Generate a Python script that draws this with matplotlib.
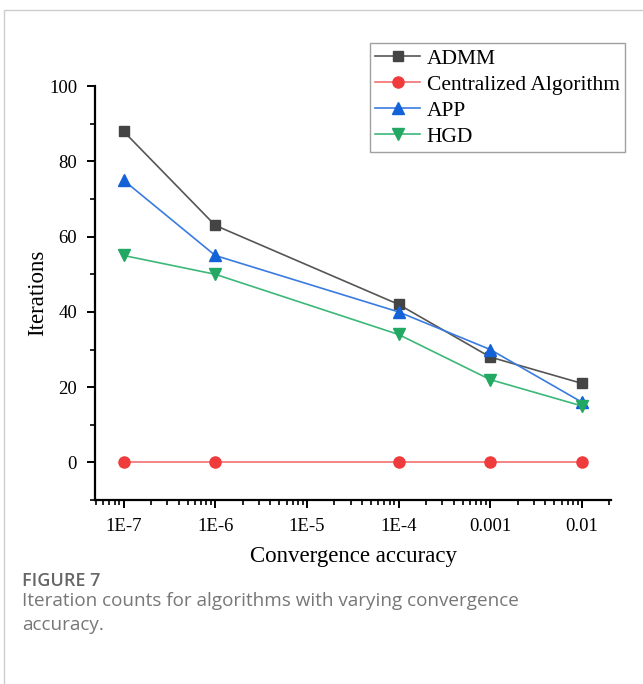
import matplotlib.pyplot as plt
import matplotlib
import numpy as np
from matplotlib.patches import Rectangle
from matplotlib.ticker import FixedLocator, LogLocator, NullFormatter, MultipleLocator

matplotlib.rcParams['font.family'] = 'Liberation Serif'

# data
acc = [1e-7, 1e-6, 1e-4, 1e-3, 1e-2]
tick_vals = [1e-7, 1e-6, 1e-5, 1e-4, 1e-3, 1e-2]
tick_labels = ['1E-7', '1E-6', '1E-5', '1E-4', '0.001', '0.01']
admm = [88, 63, 42, 28, 21]
central = [0, 0, 0, 0, 0]
app = [75, 55, 40, 30, 16]
hgd = [55, 50, 34, 22, 15]

fig = plt.figure(figsize=(6.43, 6.84), dpi=100)
ax = fig.add_axes([0.148, 0.269, 0.802, 0.605])

ax.plot(acc, admm, color='#555555', marker='s', markersize=7, mfc='#444444', mec='#444444', lw=1.2, label='ADMM')
ax.plot(acc, central, color='#f27070', marker='o', markersize=8, mfc='#ef3b3b', mec='#ef3b3b', lw=1.2, label='Centralized Algorithm')
ax.plot(acc, app, color='#3a7be0', marker='^', markersize=8, mfc='#1462d8', mec='#1462d8', lw=1.2, label='APP')
ax.plot(acc, hgd, color='#3cb878', marker='v', markersize=8, mfc='#22a862', mec='#22a862', lw=1.2, label='HGD')

ax.set_xscale('log')
ax.set_xlim(4.9e-8, 0.0207)
ax.set_ylim(-10, 100)
ax.xaxis.set_major_locator(FixedLocator(tick_vals))
ax.set_xticklabels(tick_labels)
ax.xaxis.set_minor_locator(LogLocator(base=10, subs=np.arange(2, 10)))
ax.xaxis.set_minor_formatter(NullFormatter())
ax.yaxis.set_major_locator(MultipleLocator(20))
ax.yaxis.set_minor_locator(MultipleLocator(10))

for s in ['top', 'right']:
    ax.spines[s].set_visible(False)
for s in ['left', 'bottom']:
    ax.spines[s].set_linewidth(1.6)
ax.tick_params(which='major', direction='out', length=6, width=1.4, labelsize=13.5, pad=7)
ax.tick_params(which='minor', direction='out', length=3.5, width=1.2)

ax.set_xlabel('Convergence accuracy', fontsize=16.5, labelpad=8)
ax.set_ylabel('Iterations', fontsize=16.5)
ax.yaxis.set_label_coords(-0.091, 0.5)

leg = ax.legend(loc='upper left', bbox_to_anchor=(0.575, 0.937), bbox_transform=fig.transFigure,
                fontsize=15.5, frameon=True, fancybox=False, edgecolor='#888888',
                handlelength=2.1, handletextpad=0.3, borderpad=0.25, labelspacing=0.28,
                borderaxespad=0)
leg.get_frame().set_linewidth(1.0)

# outer frame of the figure card
fig.patches.append(Rectangle((0.006, -0.1), 1.1, 1.085, transform=fig.transFigure,
                             fill=False, edgecolor='#cccccc', lw=1.0))

fig.text(0.034, 0.143, 'FIGURE 7', family='Open Sans', fontsize=13, weight='semibold', color='#666666')
fig.text(0.034, 0.079, 'Iteration counts for algorithms with varying convergence\naccuracy.',
         family='Open Sans', fontsize=13.6, color='#777777', linespacing=1.45)

plt.savefig('out.png', dpi=100)
